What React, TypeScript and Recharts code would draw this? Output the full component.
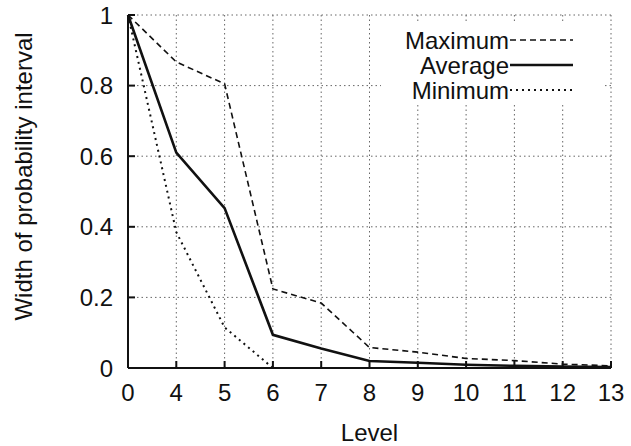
import React from 'react';
import { LineChart, Line, XAxis, YAxis, CartesianGrid } from 'recharts';

// levels shown on the x axis (0 then 4..13, evenly spaced)
const levels = [0, 4, 5, 6, 7, 8, 9, 10, 11, 12, 13];
const maximum = [1, 0.867, 0.805, 0.224, 0.184, 0.058, 0.045, 0.027, 0.021, 0.011, 0.006];
const average = [1, 0.61, 0.453, 0.094, 0.055, 0.02, 0.015, 0.009, 0.006, 0.004, 0.003];
const minimum = [1, 0.385, 0.115, 0, 0, 0, 0, 0, 0, 0, 0];
const yTicks = [0, 0.2, 0.4, 0.6, 0.8, 1];

const series = [
  { key: 'maximum', name: 'Maximum', dash: '6 4', width: 1.6 },
  { key: 'average', name: 'Average', dash: undefined, width: 2.6 },
  { key: 'minimum', name: 'Minimum', dash: '2 4', width: 2 },
];

const data = levels.map((level, i) => ({
  level,
  maximum: maximum[i],
  average: average[i],
  minimum: minimum[i],
}));

const FONT = '"Liberation Sans", Arial, sans-serif';
const INK = '#111';
const TICK = 7;
const FS = 24;

const BottomTick = (props: any) => {
  const { x, y, payload } = props;
  return (
    <g>
      <line x1={x} y1={y} x2={x} y2={y - TICK} stroke={INK} strokeWidth={2} />
      <text x={x} y={y + 33} textAnchor="middle" fontSize={FS} fontFamily={FONT} fill={INK}>
        {payload.value}
      </text>
    </g>
  );
};

const TopTick = (props: any) => {
  const { x, y } = props;
  return <line x1={x} y1={y} x2={x} y2={y + TICK} stroke={INK} strokeWidth={2} />;
};

const LeftTick = (props: any) => {
  const { x, y, payload } = props;
  return (
    <g>
      <line x1={x} y1={y} x2={x + TICK} y2={y} stroke={INK} strokeWidth={2} />
      <text x={x - 15} y={y + 8.5} textAnchor="end" fontSize={FS} fontFamily={FONT} fill={INK}>
        {payload.value}
      </text>
    </g>
  );
};

const RightTick = (props: any) => {
  const { x, y } = props;
  return <line x1={x} y1={y} x2={x - TICK} y2={y} stroke={INK} strokeWidth={2} />;
};

// gnuplot style key, boxed in white so the grid stops behind it
const KeyBox = () => (
  <svg width={222} height={80} style={{ background: '#fff', display: 'block' }}>
    {series.map((s, i) => {
      const cy = 17 + i * 25;
      return (
        <g key={s.key}>
          <text x={128} y={cy + 8.5} textAnchor="end" fontSize={FS} fontFamily={FONT} fill={INK}>
            {s.name}
          </text>
          <line
            x1={129}
            y1={cy}
            x2={192}
            y2={cy}
            stroke={INK}
            strokeWidth={s.width}
            strokeDasharray={s.dash}
          />
        </g>
      );
    })}
  </svg>
);

export default function App() {
  return (
    <div style={{ position: 'absolute', left: 0, top: 0, width: 631, height: 446, background: '#fff' }}>
      <LineChart width={631} height={446} data={data} margin={{ top: 15, right: 20, bottom: 0, left: 0 }}>
        <CartesianGrid stroke="#666" strokeDasharray="1.5 3" />
        <XAxis
          dataKey="level"
          type="category"
          height={78}
          tickSize={0}
          tickMargin={0}
          tickLine={false}
          interval={0}
          tick={<BottomTick />}
          axisLine={{ stroke: INK, strokeWidth: 2 }}
          label={{ value: 'Level', position: 'insideBottom', offset: 5, fontSize: FS, fontFamily: FONT, fill: INK }}
        />
        <XAxis
          xAxisId="top"
          dataKey="level"
          type="category"
          orientation="top"
          height={0}
          tickSize={0}
          tickMargin={0}
          tickLine={false}
          interval={0}
          tick={<TopTick />}
          axisLine={{ stroke: INK, strokeWidth: 2 }}
        />
        <YAxis
          domain={[0, 1]}
          ticks={yTicks}
          width={128}
          tickSize={0}
          tickMargin={0}
          tickLine={false}
          interval={0}
          tick={<LeftTick />}
          axisLine={{ stroke: INK, strokeWidth: 2 }}
          label={{
            value: 'Width of probability interval',
            angle: -90,
            position: 'insideLeft',
            offset: 23,
            dy: -15,
            style: { textAnchor: 'middle' },
            fontSize: FS,
            fontFamily: FONT,
            fill: INK,
          }}
        />
        <YAxis
          yAxisId="right"
          orientation="right"
          domain={[0, 1]}
          ticks={yTicks}
          width={0}
          tickSize={0}
          tickMargin={0}
          tickLine={false}
          interval={0}
          tick={<RightTick />}
          axisLine={{ stroke: INK, strokeWidth: 2 }}
        />
        {series.map((s) => (
          <Line
            key={s.key}
            dataKey={s.key}
            name={s.name}
            type="linear"
            stroke={INK}
            strokeWidth={s.width}
            strokeDasharray={s.dash}
            dot={false}
            activeDot={false}
            isAnimationActive={false}
          />
        ))}
      </LineChart>
      <div style={{ position: 'absolute', left: 381, top: 23 }}>
        <KeyBox />
      </div>
    </div>
  );
}
